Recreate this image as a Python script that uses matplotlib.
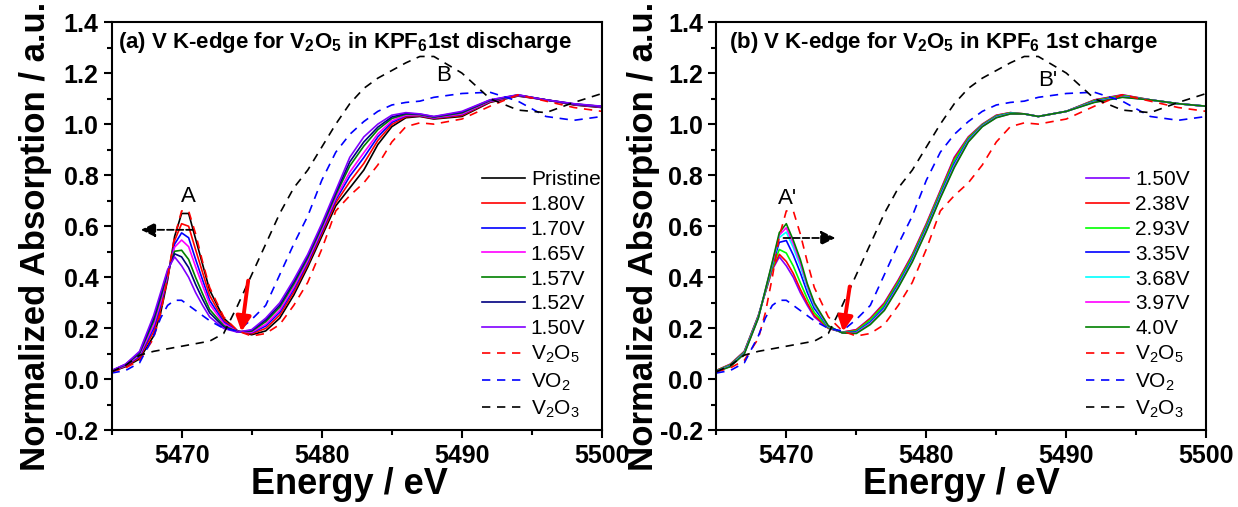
import numpy as np
import matplotlib
matplotlib.use('Agg')
import matplotlib.pyplot as plt
from matplotlib.ticker import MultipleLocator

plt.rcParams['font.family'] = ['Liberation Sans', 'DejaVu Sans']
plt.rcParams['mathtext.default'] = 'regular'
plt.rcParams['axes.unicode_minus'] = False

# energy grid (eV) the values below were read at
energy = [5465, 5466, 5467, 5468, 5468.5, 5469, 5469.5, 5470, 5470.5, 5471,
          5471.5, 5472, 5473, 5474, 5475, 5476, 5477, 5478, 5479, 5480,
          5481, 5482, 5483, 5484, 5485, 5486, 5487, 5488, 5490, 5492,
          5494, 5496, 5498, 5500]

# references
v2o5 = [0.03, 0.045, 0.075, 0.16, 0.26, 0.40, 0.56, 0.66, 0.66, 0.57,
        0.46, 0.36, 0.245, 0.19, 0.17, 0.18, 0.215, 0.29, 0.38, 0.51,
        0.66, 0.72, 0.77, 0.84, 0.93, 0.99, 1.005, 1.0, 1.02, 1.07,
        1.115, 1.09, 1.065, 1.05]
vo2 = [0.025, 0.035, 0.065, 0.17, 0.24, 0.29, 0.31, 0.31, 0.29, 0.27,
       0.25, 0.23, 0.20, 0.19, 0.235, 0.29, 0.41, 0.53, 0.64, 0.78,
       0.89, 0.96, 1.01, 1.05, 1.075, 1.085, 1.09, 1.105, 1.12, 1.125,
       1.09, 1.03, 1.015, 1.03]
v2o3 = [0.03, 0.055, 0.095, 0.11, 0.115, 0.12, 0.125, 0.13, 0.135, 0.14,
        0.145, 0.15, 0.18, 0.29, 0.41, 0.53, 0.65, 0.75, 0.82, 0.91,
        1.0, 1.08, 1.14, 1.18, 1.21, 1.24, 1.265, 1.265, 1.20, 1.10,
        1.055, 1.045, 1.085, 1.12]

# 1st discharge
pristine = [0.03, 0.05, 0.08, 0.17, 0.26, 0.39, 0.56, 0.65, 0.65, 0.55,
            0.45, 0.35, 0.24, 0.19, 0.175, 0.19, 0.24, 0.33, 0.44, 0.56,
            0.68, 0.75, 0.82, 0.92, 0.99, 1.025, 1.03, 1.02, 1.03, 1.085,
            1.11, 1.095, 1.075, 1.065]
d180 = [0.031, 0.052, 0.086, 0.186, 0.276, 0.398, 0.544, 0.61, 0.60, 0.508,
        0.418, 0.329, 0.232, 0.189, 0.179, 0.20, 0.252, 0.342, 0.45, 0.57,
        0.692, 0.774, 0.846, 0.936, 0.999, 1.029, 1.032, 1.022, 1.034, 1.087,
        1.111, 1.095, 1.076, 1.066]
d170 = [0.032, 0.054, 0.091, 0.20, 0.29, 0.405, 0.53, 0.574, 0.555, 0.47,
        0.389, 0.31, 0.225, 0.188, 0.183, 0.209, 0.263, 0.353, 0.459, 0.579,
        0.703, 0.796, 0.869, 0.95, 1.007, 1.033, 1.034, 1.024, 1.038, 1.089,
        1.112, 1.095, 1.077, 1.067]
d165 = [0.033, 0.055, 0.096, 0.212, 0.302, 0.41, 0.518, 0.546, 0.52, 0.441,
        0.367, 0.295, 0.219, 0.187, 0.185, 0.216, 0.271, 0.361, 0.466, 0.586,
        0.711, 0.812, 0.888, 0.962, 1.013, 1.035, 1.035, 1.025, 1.04, 1.09,
        1.113, 1.095, 1.078, 1.068]
d157 = [0.034, 0.057, 0.102, 0.228, 0.318, 0.419, 0.502, 0.506, 0.47, 0.399,
        0.335, 0.274, 0.211, 0.186, 0.189, 0.226, 0.283, 0.373, 0.476, 0.596,
        0.723, 0.836, 0.914, 0.978, 1.022, 1.039, 1.037, 1.027, 1.044, 1.092,
        1.114, 1.095, 1.079, 1.069]
d152 = [0.034, 0.059, 0.106, 0.238, 0.328, 0.424, 0.492, 0.48, 0.438, 0.372,
        0.314, 0.261, 0.206, 0.186, 0.192, 0.233, 0.291, 0.381, 0.483, 0.603,
        0.731, 0.852, 0.93, 0.988, 1.028, 1.042, 1.039, 1.029, 1.047, 1.094,
        1.114, 1.095, 1.079, 1.069]
d150 = [0.035, 0.06, 0.11, 0.25, 0.34, 0.43, 0.48, 0.445, 0.40, 0.34,
        0.29, 0.245, 0.20, 0.185, 0.195, 0.24, 0.30, 0.39, 0.49, 0.61,
        0.74, 0.87, 0.95, 1.00, 1.035, 1.045, 1.04, 1.03, 1.05, 1.095,
        1.115, 1.095, 1.08, 1.07]

# 1st charge (starts from the 1.50V spectrum)
c238 = [0.035, 0.059, 0.109, 0.249, 0.341, 0.433, 0.49, 0.462, 0.415, 0.353,
        0.299, 0.251, 0.201, 0.185, 0.194, 0.238, 0.297, 0.387, 0.487, 0.607,
        0.737, 0.866, 0.948, 0.999, 1.034, 1.045, 1.04, 1.03, 1.05, 1.094,
        1.114, 1.095, 1.08, 1.07]
c293 = [0.034, 0.057, 0.107, 0.247, 0.343, 0.439, 0.509, 0.495, 0.444, 0.379,
        0.316, 0.262, 0.203, 0.184, 0.19, 0.233, 0.291, 0.381, 0.481, 0.601,
        0.731, 0.858, 0.944, 0.997, 1.032, 1.044, 1.04, 1.03, 1.05, 1.092,
        1.112, 1.095, 1.08, 1.07]
c335 = [0.032, 0.054, 0.104, 0.244, 0.346, 0.448, 0.537, 0.544, 0.487, 0.418,
        0.341, 0.278, 0.206, 0.183, 0.186, 0.225, 0.282, 0.372, 0.472, 0.592,
        0.722, 0.846, 0.938, 0.994, 1.029, 1.042, 1.04, 1.03, 1.05, 1.089,
        1.109, 1.095, 1.08, 1.07]
c368 = [0.031, 0.052, 0.102, 0.242, 0.348, 0.454, 0.556, 0.577, 0.516, 0.444,
        0.358, 0.289, 0.208, 0.183, 0.183, 0.22, 0.276, 0.366, 0.466, 0.586,
        0.716, 0.838, 0.934, 0.992, 1.027, 1.041, 1.04, 1.03, 1.05, 1.087,
        1.107, 1.095, 1.08, 1.07]
c397 = [0.031, 0.051, 0.101, 0.241, 0.349, 0.457, 0.566, 0.594, 0.531, 0.457,
        0.367, 0.295, 0.209, 0.182, 0.182, 0.218, 0.273, 0.363, 0.463, 0.583,
        0.713, 0.834, 0.932, 0.991, 1.026, 1.04, 1.04, 1.03, 1.05, 1.086,
        1.106, 1.095, 1.08, 1.07]
c400 = [0.03, 0.05, 0.10, 0.24, 0.35, 0.46, 0.575, 0.61, 0.545, 0.47,
        0.375, 0.30, 0.21, 0.182, 0.18, 0.215, 0.27, 0.36, 0.46, 0.58,
        0.71, 0.83, 0.93, 0.99, 1.025, 1.04, 1.04, 1.03, 1.05, 1.085,
        1.105, 1.095, 1.08, 1.07]

dis_labels = ['Pristine', '1.80V', '1.70V', '1.65V', '1.57V', '1.52V', '1.50V']
chg_labels = ['1.50V', '2.38V', '2.93V', '3.35V', '3.68V', '3.97V', '4.0V']
ref_labels = ['V$_2$O$_5$', 'VO$_2$', 'V$_2$O$_3$']

dis_data = [pristine, d180, d170, d165, d157, d152, d150]
chg_data = [d150, c238, c293, c335, c368, c397, c400]
ref_data = [v2o5, vo2, v2o3]

dis_colors = ['black', '#FF0000', '#0000FF', '#FF00FF', '#008000', '#000080', '#8000FF']
chg_colors = ['#8000FF', '#FF0000', '#00FF00', '#0000FF', '#00FFFF', '#FF00FF', '#008000']
ref_colors = ['#FF0000', '#0000FF', 'black']

fig = plt.figure(figsize=(12.38, 5.07), dpi=100)
ax1 = fig.add_axes([0.0901, 0.1509, 0.3962, 0.8057])
ax2 = fig.add_axes([0.5786, 0.1509, 0.3958, 0.8057])


def draw(ax, data, labels, colors, title, title_x):
    for y, lab, c in zip(data, labels, colors):
        ax.plot(energy, y, color=c, lw=1.2, label=lab)
    for y, lab, c in zip(ref_data, ref_labels, ref_colors):
        ax.plot(energy, y, color=c, lw=1.2, ls='--', dashes=(5, 4), label=lab)

    ax.set_xlim(5465, 5500)
    ax.set_ylim(-0.2, 1.4)
    ax.xaxis.set_major_locator(MultipleLocator(10))
    ax.xaxis.set_minor_locator(MultipleLocator(5))
    ax.yaxis.set_major_locator(MultipleLocator(0.2))
    ax.yaxis.set_minor_locator(MultipleLocator(0.1))
    ax.tick_params(which='both', direction='out', width=1.5)
    ax.tick_params(which='major', length=6, labelsize=18)
    ax.tick_params(which='minor', length=3.5)
    for lab in ax.get_xticklabels() + ax.get_yticklabels():
        lab.set_fontweight('bold')
    for s in ax.spines.values():
        s.set_linewidth(1.5)

    ax.set_xlabel('Energy / eV', fontsize=26, fontweight='bold')
    ax.set_ylabel('Normalized Absorption / a.u.', fontsize=25, fontweight='bold')

    ax.text(title_x, 0.951, title, transform=ax.transAxes, fontsize=16,
            fontweight='bold', ha='left', va='center')

    ax.legend(loc='upper left', bbox_to_anchor=(0.755, 0.637), frameon=False,
              fontsize=15, handlelength=2.05, handletextpad=0.3,
              labelspacing=0.28, borderpad=0, borderaxespad=0)


draw(ax1, dis_data, dis_labels, dis_colors,
     '(a) V K-edge for V$_2$O$_5$ in KPF$_6$1st discharge', 0.013)
draw(ax2, chg_data, chg_labels, chg_colors,
     '(b) V K-edge for V$_2$O$_5$ in KPF$_6$ 1st charge', 0.025)
ax1.xaxis.set_label_coords(0.486, -0.09)
ax2.xaxis.set_label_coords(0.50, -0.09)
ax1.yaxis.set_label_coords(-0.121, 0.475)
ax2.yaxis.set_label_coords(-0.114, 0.475)

# peak labels and arrows
ax1.text(5470.5, 0.717, 'A', fontsize=16, ha='center', va='center')
ax1.text(5488.7, 1.19, 'B', fontsize=16, ha='center', va='center')
ax1.annotate('', xy=(5467.1, 0.586), xytext=(5470.8, 0.586),
             arrowprops=dict(arrowstyle='-|>', ls='--', color='black', lw=1.3,
                             mutation_scale=22, shrinkA=0, shrinkB=0))
ax1.annotate('', xy=(5474.27, 0.187), xytext=(5474.75, 0.387),
             arrowprops=dict(arrowstyle='-|>', color='#FF0000', lw=2.8,
                             mutation_scale=22, shrinkA=0, shrinkB=0))

ax2.text(5470.1, 0.71, "A'", fontsize=16, ha='center', va='center')
ax2.text(5488.7, 1.17, "B'", fontsize=16, ha='center', va='center')
ax2.annotate('', xy=(5473.5, 0.554), xytext=(5469.8, 0.554),
             arrowprops=dict(arrowstyle='-|>', ls='--', color='black', lw=1.3,
                             mutation_scale=22, shrinkA=0, shrinkB=0))
ax2.annotate('', xy=(5474.05, 0.187), xytext=(5474.53, 0.364),
             arrowprops=dict(arrowstyle='-|>', color='#FF0000', lw=2.8,
                             mutation_scale=22, shrinkA=0, shrinkB=0))

fig.savefig('out.png', dpi=100)
